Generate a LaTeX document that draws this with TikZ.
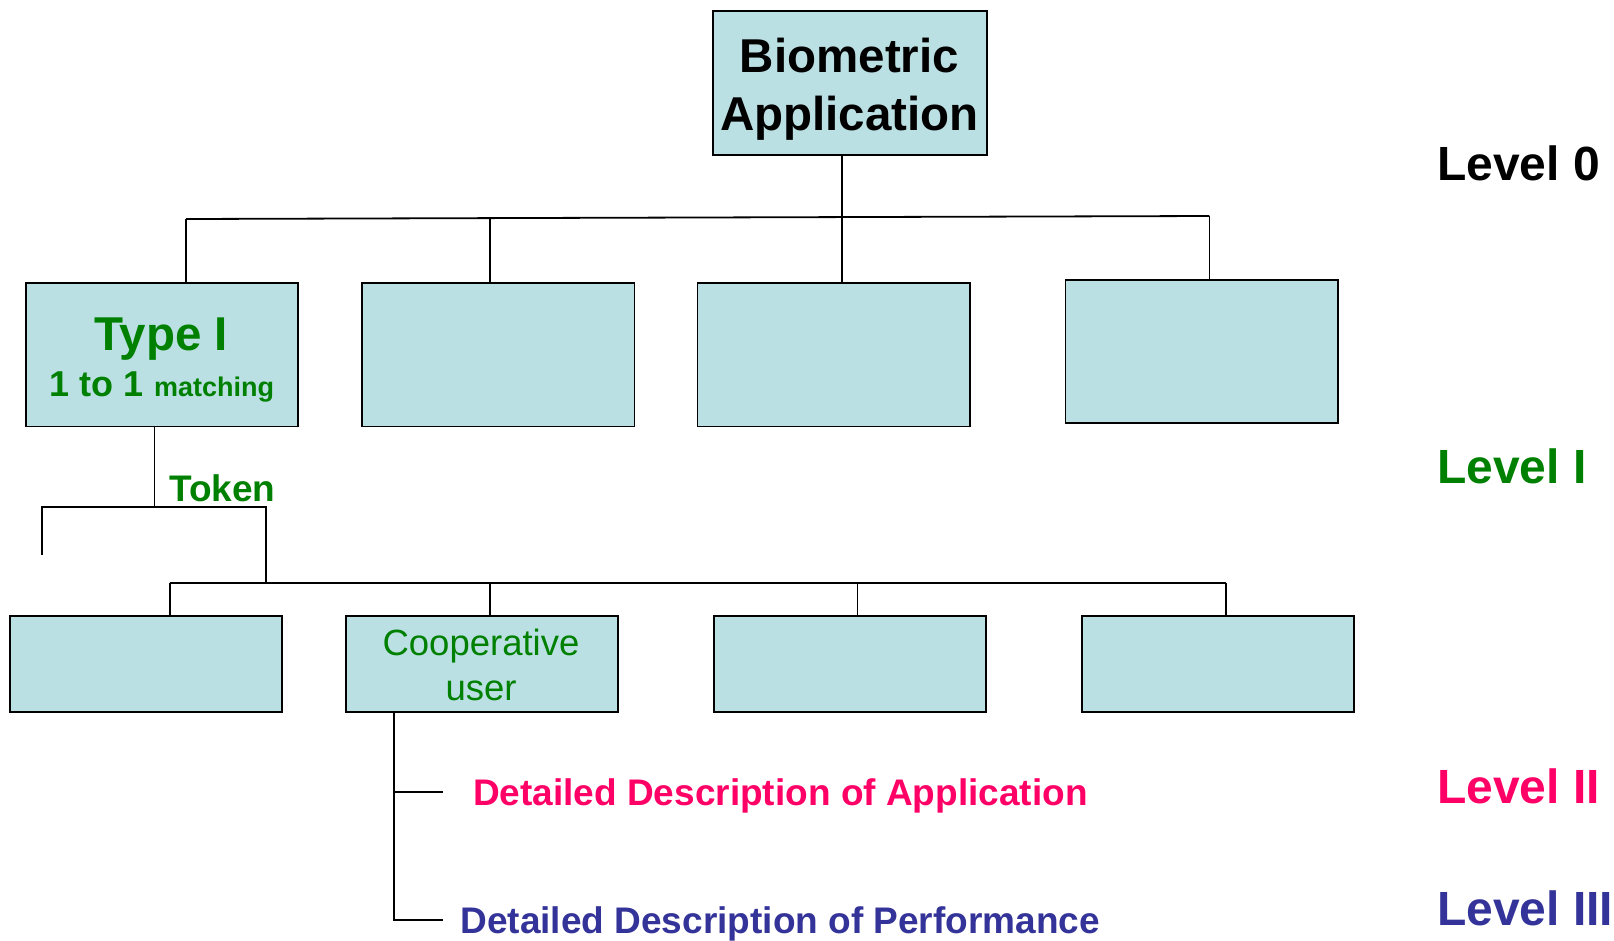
\documentclass[tikz,border=0pt]{standalone}
\usepackage{fontspec}
\setmainfont{Liberation Sans}
\definecolor{boxfill}{HTML}{BBE0E3}
\definecolor{lvgreen}{HTML}{008000}
\definecolor{lvpink}{HTML}{FF0066}
\definecolor{lvblue}{HTML}{333399}
\begin{document}
\begin{tikzpicture}[x=1pt,y=-1pt,
  box/.style={draw=black, line width=1.8pt, fill=boxfill, minimum width=272.6pt,
    minimum height=143.7pt, inner sep=0pt, outer sep=0pt},
  lowbox/.style={box, minimum width=271.8pt, minimum height=96.3pt},
  wire/.style={draw=black, line width=1.8pt},
  txt/.style={inner sep=0pt, outer sep=0pt, anchor=base},
  big/.style={font=\bfseries\fontsize{47.5}{50}\selectfont},
  mid/.style={font=\bfseries\fontsize{37}{40}\selectfont},
  level/.style={txt, anchor=base west, font=\bfseries\fontsize{48}{50}\selectfont}
]
\useasboundingbox (0,0) rectangle (1614,940);

% root box
\node[box, minimum width=273.4pt, minimum height=144.3pt] (app) at (850,82.85) {};
\node[txt, big] (appA) at (849.5,72.7) {Biometric};
\node[txt, big] (appB) at (849.5,130) {Application};

% first level boxes
\node[box] (t1) at (162,354.7) {};
\node[box] (t2) at (498.2,354.7) {};
\node[box] (t3) at (833.8,354.7) {};
\node[box] (t4) at (1201.7,351.5) {};
\node[txt, big, text=lvgreen] (typeA) at (161,350.7) {Type I};
\node[txt, text=lvgreen] (typeB) at (162,396.7)
  {\bfseries\fontsize{36}{40}\selectfont 1 to 1 \fontsize{27}{30}\selectfont matching};

% second level boxes
\node[lowbox] (u1) at (146.1,663.85) {};
\node[lowbox] (u2) at (481.7,663.85) {};
\node[lowbox] (u3) at (850.2,663.85) {};
\node[lowbox] (u4) at (1217.7,663.85) {};
\node[txt, text=lvgreen, font=\fontsize{36.5}{40}\selectfont] (coopA) at (481,655) {Cooperative};
\node[txt, text=lvgreen, font=\fontsize{36.5}{40}\selectfont] (coopB) at (481,700) {user};

% root to first level
\coordinate (barL) at (186,219);
\coordinate (barR) at (1209.4,216);
\coordinate (bar2) at (490,218.1);
\coordinate (bar3) at (842,217);
\draw[wire] (barL) -- (barR);
\draw[wire] (barL) -- (barL |- t1.north);
\draw[wire] (bar2) -- (bar2 |- t2.north);
\draw[wire] (bar3 |- app.south) -- (bar3 |- t3.north);
\draw[wire] (barR) -- (barR |- t4.north);

% token branch
\coordinate (tokJ) at (154.4,506.7);
\coordinate (tokL) at (41.7,555);
\coordinate (tokR) at (266,583.3);
\draw[wire] (tokJ |- t1.south) -- (tokJ);
\draw[wire] (tokL) -- (tokL |- tokJ) -- (tokR |- tokJ) -- (tokR);
\node[txt, mid, anchor=base west, text=lvgreen] (token) at (169.3,501.7) {Token};

% first level to second level
\coordinate (lowL) at (169.8,583.3);
\coordinate (lowR) at (1226,583.3);
\coordinate (low2) at (490,583.3);
\coordinate (low3) at (857.4,583.3);
\draw[wire] (lowL) -- (lowR);
\draw[wire] (lowL) -- (lowL |- u1.north);
\draw[wire] (low2) -- (low2 |- u2.north);
\draw[wire] (low3) -- (low3 |- u3.north);
\draw[wire] (lowR) -- (lowR |- u4.north);

% detail branches
\coordinate (dX) at (394.2,920);
\coordinate (dA) at (442.7,791.7);
\coordinate (dB) at (442.7,920);
\draw[wire] (dX |- u2.south) -- (dX) -- (dB);
\draw[wire] (dX |- dA) -- (dA);
\node[txt, mid, anchor=base west, text=lvpink] (descA) at (473,805.7) {Detailed Description of Application};
\node[txt, mid, anchor=base west, text=lvblue] (descB) at (460.5,933.3) {Detailed Description of Performance};

% level captions
\node[level, text=black] (lv0) at (1437.2,180.7) {Level 0};
\node[level, text=lvgreen] (lv1) at (1437.2,483.3) {Level I};
\node[level, text=lvpink] (lv2) at (1437.2,803.3) {Level II};
\node[level, text=lvblue] (lv3) at (1437.2,925) {Level III};
\end{tikzpicture}
\end{document}
